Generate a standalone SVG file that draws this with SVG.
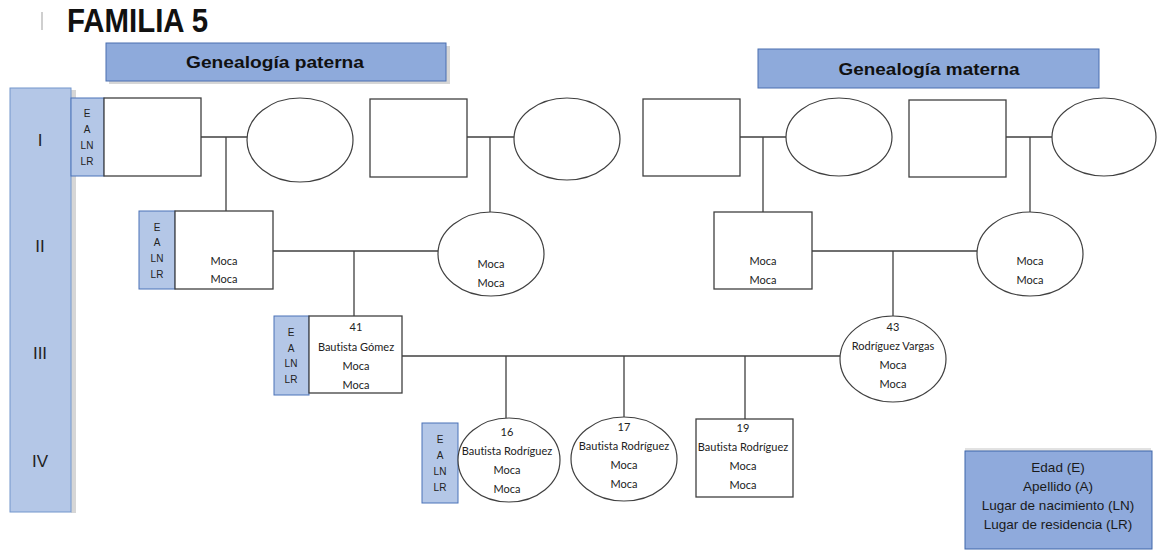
<svg xmlns="http://www.w3.org/2000/svg" width="1160" height="550" viewBox="0 0 1160 550">
  <style>
    .title { font-family: "Liberation Sans", Arial, sans-serif; font-weight: bold; font-size: 33px; fill: #111; }
    .hdr { fill: #8eaadb; stroke: #4a6fb0; stroke-width: 1; }
    .hdr-t { font-family: "Liberation Sans", Arial, sans-serif; font-weight: bold; font-size: 17px; fill: #111; text-anchor: middle; }
    .shadow { fill: #d6d6d6; }
    .gen { fill: #b4c7e7; stroke: #7396cc; stroke-width: 1; }
    .gen-t { font-family: "Liberation Sans", Arial, sans-serif; font-size: 17px; fill: #222; text-anchor: middle; }
    .tag { fill: #b4c7e7; stroke: #4a72b8; stroke-width: 1; }
    .tag-t { font-family: "Liberation Sans", Arial, sans-serif; font-size: 10px; fill: #222; text-anchor: middle; }
    .m { fill: #fff; stroke: #404040; stroke-width: 1.3; }
    .f { fill: #fff; stroke: #404040; stroke-width: 1.2; }
    .n { font-family: Lato, "Liberation Sans", sans-serif; font-size: 11px; fill: #222; text-anchor: middle; font-variant-ligatures: none; }
    .edge { stroke: #404040; stroke-width: 1.3; fill: none; }
    .legend { fill: #8faadc; stroke: #3f66aa; stroke-width: 1; }
    .legend-t { font-family: "Liberation Sans", Arial, sans-serif; font-size: 13.5px; fill: #1a1a1a; text-anchor: middle; }
  </style>

  <rect width="1160" height="550" fill="#fff"/>

  <!-- title -->
  <g id="title">
    <rect x="41" y="12" width="2" height="18" fill="#cfcfcf"/>
    <text class="title" x="67" y="32" textLength="141" lengthAdjust="spacingAndGlyphs">FAMILIA 5</text>
  </g>

  <!-- section headers -->
  <g id="header-paterna">
    <rect class="shadow" x="109" y="46" width="341" height="38"/>
    <rect class="hdr" x="106" y="43" width="340" height="38"/>
    <text class="hdr-t" x="275" y="68" textLength="178" lengthAdjust="spacingAndGlyphs">Genealogía paterna</text>
  </g>
  <g id="header-materna">
    <rect class="hdr" x="758" y="49" width="341" height="39"/>
    <text class="hdr-t" x="929" y="75" textLength="181" lengthAdjust="spacingAndGlyphs">Genealogía materna</text>
  </g>

  <!-- generation column -->
  <g id="generations">
    <rect class="shadow" x="71" y="90" width="5" height="423"/>
    <rect class="gen" x="10" y="88" width="61" height="424"/>
    <text class="gen-t" x="40" y="146">I</text>
    <text class="gen-t" x="40" y="252">II</text>
    <text class="gen-t" x="40" y="359">III</text>
    <text class="gen-t" x="40" y="467">IV</text>
  </g>

  <!-- connectors -->
  <g id="connectors">
    <!-- generation I couples -->
    <path class="edge" d="M201 137 H247 M226 137 V211"/>
    <path class="edge" d="M467 137 H514 M490 137 V212"/>
    <path class="edge" d="M740 137 H786 M763 137 V212"/>
    <path class="edge" d="M1006 137 H1052 M1030 137 V212"/>
    <!-- generation II couples -->
    <path class="edge" d="M273 251 H438 M354 251 V316"/>
    <path class="edge" d="M812 251 H977 M893 251 V317"/>
    <!-- generation III couple and children -->
    <path class="edge" d="M402 356 H840"/>
    <path class="edge" d="M506 356 V418 M624 356 V417 M745 356 V419"/>
  </g>

  <!-- generation I -->
  <g id="p-abuelo-1">
    <rect class="tag" x="71" y="98" width="33" height="78"/>
    <text class="tag-t" x="87" y="117">E</text>
    <text class="tag-t" x="87" y="133">A</text>
    <text class="tag-t" x="87" y="149">LN</text>
    <text class="tag-t" x="87" y="165">LR</text>
    <rect class="m" x="104" y="98" width="97" height="78"/>
  </g>
  <g id="p-abuela-1">
    <ellipse class="f" cx="300" cy="140" rx="53" ry="42"/>
  </g>
  <g id="p-abuelo-2">
    <rect class="m" x="370" y="99" width="97" height="78"/>
  </g>
  <g id="p-abuela-2">
    <ellipse class="f" cx="567" cy="139" rx="53" ry="41"/>
  </g>
  <g id="m-abuelo-1">
    <rect class="m" x="643" y="99" width="97" height="77"/>
  </g>
  <g id="m-abuela-1">
    <ellipse class="f" cx="839" cy="137" rx="53" ry="39"/>
  </g>
  <g id="m-abuelo-2">
    <rect class="m" x="909" y="100" width="97" height="77"/>
  </g>
  <g id="m-abuela-2">
    <ellipse class="f" cx="1104" cy="137" rx="52" ry="39"/>
  </g>

  <!-- generation II -->
  <g id="padre-padre">
    <rect class="tag" x="139" y="211" width="36" height="78"/>
    <text class="tag-t" x="157" y="231">E</text>
    <text class="tag-t" x="157" y="246">A</text>
    <text class="tag-t" x="157" y="262">LN</text>
    <text class="tag-t" x="157" y="278">LR</text>
    <rect class="m" x="175" y="211" width="98" height="78"/>
    <text class="n" x="224" y="265">Moca</text>
    <text class="n" x="224" y="283">Moca</text>
  </g>
  <g id="madre-padre">
    <ellipse class="f" cx="491" cy="254" rx="53" ry="42"/>
    <text class="n" x="491" y="268">Moca</text>
    <text class="n" x="491" y="287">Moca</text>
  </g>
  <g id="padre-madre">
    <rect class="m" x="714" y="212" width="98" height="77"/>
    <text class="n" x="763" y="265">Moca</text>
    <text class="n" x="763" y="284">Moca</text>
  </g>
  <g id="madre-madre">
    <ellipse class="f" cx="1030" cy="254" rx="53" ry="42"/>
    <text class="n" x="1030" y="265">Moca</text>
    <text class="n" x="1030" y="284">Moca</text>
  </g>

  <!-- generation III -->
  <g id="padre">
    <rect class="tag" x="274" y="316" width="35" height="79"/>
    <text class="tag-t" x="291" y="336">E</text>
    <text class="tag-t" x="291" y="352">A</text>
    <text class="tag-t" x="291" y="367">LN</text>
    <text class="tag-t" x="291" y="383">LR</text>
    <rect class="m" x="309" y="316" width="93" height="77"/>
    <text class="n" x="356" y="331">41</text>
    <text class="n" x="356" y="351">Bautista Gómez</text>
    <text class="n" x="356" y="370">Moca</text>
    <text class="n" x="356" y="389">Moca</text>
  </g>
  <g id="madre">
    <ellipse class="f" cx="893" cy="359" rx="53" ry="43"/>
    <text class="n" x="893" y="331">43</text>
    <text class="n" x="893" y="350">Rodríguez Vargas</text>
    <text class="n" x="893" y="369">Moca</text>
    <text class="n" x="893" y="388">Moca</text>
  </g>

  <!-- generation IV -->
  <g id="hijo-16">
    <rect class="tag" x="422" y="423" width="36" height="80"/>
    <text class="tag-t" x="440" y="443">E</text>
    <text class="tag-t" x="440" y="459">A</text>
    <text class="tag-t" x="440" y="475">LN</text>
    <text class="tag-t" x="440" y="491">LR</text>
    <ellipse class="f" cx="509" cy="460" rx="51" ry="42"/>
    <text class="n" x="507" y="436">16</text>
    <text class="n" x="507" y="455">Bautista Rodríguez</text>
    <text class="n" x="507" y="474">Moca</text>
    <text class="n" x="507" y="493">Moca</text>
  </g>
  <g id="hijo-17">
    <ellipse class="f" cx="624" cy="459" rx="53" ry="42"/>
    <text class="n" x="624" y="431">17</text>
    <text class="n" x="624" y="450">Bautista Rodríguez</text>
    <text class="n" x="624" y="469">Moca</text>
    <text class="n" x="624" y="488">Moca</text>
  </g>
  <g id="hijo-19">
    <rect class="m" x="696" y="419" width="97" height="78"/>
    <text class="n" x="743" y="432">19</text>
    <text class="n" x="743" y="451">Bautista Rodríguez</text>
    <text class="n" x="743" y="470">Moca</text>
    <text class="n" x="743" y="489">Moca</text>
  </g>

  <!-- legend -->
  <g id="legend">
    <rect class="shadow" x="965" y="448" width="186" height="3" opacity="0.7"/>
    <rect class="legend" x="965" y="451" width="187" height="98"/>
    <text class="legend-t" x="1058" y="472">Edad (E)</text>
    <text class="legend-t" x="1058" y="491">Apellido (A)</text>
    <text class="legend-t" x="1058" y="510">Lugar de nacimiento (LN)</text>
    <text class="legend-t" x="1058" y="529">Lugar de residencia (LR)</text>
  </g>
</svg>
